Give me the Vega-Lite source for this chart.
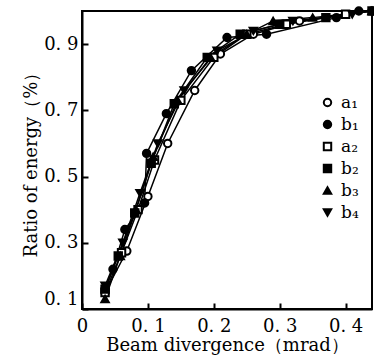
{
  "$schema": "https://vega.github.io/schema/vega-lite/v6.json",
  "width": 290,
  "height": 298,
  "autosize": "none",
  "padding": {"left": 82, "top": 11, "right": 2, "bottom": 51},
  "background": "white",
  "config": {
    "view": {"stroke": "black", "strokeWidth": 2},
    "font": "DejaVu Serif",
    "axis": {
      "grid": false,
      "domainColor": "black",
      "domainWidth": 2,
      "tickColor": "black",
      "tickWidth": 2,
      "tickSize": -6,
      "labelColor": "black",
      "titleColor": "black",
      "labelFont": "DejaVu Serif",
      "titleFont": "DejaVu Serif",
      "labelFontSize": 18,
      "titleFontSize": 18,
      "titleFontWeight": "normal"
    }
  },
  "data": {
    "values": [
      {"s": "a₁", "x": 0.035, "y": 0.15}, {"s": "a₁", "x": 0.068, "y": 0.275}, {"s": "a₁", "x": 0.1, "y": 0.44}, {"s": "a₁", "x": 0.13, "y": 0.6}, {"s": "a₁", "x": 0.171, "y": 0.76}, {"s": "a₁", "x": 0.21, "y": 0.87}, {"s": "a₁", "x": 0.26, "y": 0.93}, {"s": "a₁", "x": 0.33, "y": 0.97}, {"s": "a₁", "x": 0.44, "y": 1.0},
      {"s": "b₁", "x": 0.035, "y": 0.16}, {"s": "b₁", "x": 0.047, "y": 0.22}, {"s": "b₁", "x": 0.065, "y": 0.34}, {"s": "b₁", "x": 0.095, "y": 0.42}, {"s": "b₁", "x": 0.098, "y": 0.57}, {"s": "b₁", "x": 0.128, "y": 0.69}, {"s": "b₁", "x": 0.166, "y": 0.82}, {"s": "b₁", "x": 0.22, "y": 0.92}, {"s": "b₁", "x": 0.28, "y": 0.93}, {"s": "b₁", "x": 0.386, "y": 0.98}, {"s": "b₁", "x": 0.42, "y": 1.0},
      {"s": "a₂", "x": 0.035, "y": 0.15}, {"s": "a₂", "x": 0.06, "y": 0.27}, {"s": "a₂", "x": 0.085, "y": 0.4}, {"s": "a₂", "x": 0.11, "y": 0.55}, {"s": "a₂", "x": 0.15, "y": 0.73}, {"s": "a₂", "x": 0.2, "y": 0.86}, {"s": "a₂", "x": 0.25, "y": 0.93}, {"s": "a₂", "x": 0.31, "y": 0.96}, {"s": "a₂", "x": 0.4, "y": 0.99},
      {"s": "b₂", "x": 0.035, "y": 0.16}, {"s": "b₂", "x": 0.055, "y": 0.26}, {"s": "b₂", "x": 0.08, "y": 0.39}, {"s": "b₂", "x": 0.105, "y": 0.54}, {"s": "b₂", "x": 0.14, "y": 0.72}, {"s": "b₂", "x": 0.19, "y": 0.86}, {"s": "b₂", "x": 0.24, "y": 0.93}, {"s": "b₂", "x": 0.3, "y": 0.96}, {"s": "b₂", "x": 0.37, "y": 0.98}, {"s": "b₂", "x": 0.44, "y": 1.0},
      {"s": "b₃", "x": 0.035, "y": 0.13}, {"s": "b₃", "x": 0.058, "y": 0.26}, {"s": "b₃", "x": 0.082, "y": 0.4}, {"s": "b₃", "x": 0.108, "y": 0.56}, {"s": "b₃", "x": 0.145, "y": 0.73}, {"s": "b₃", "x": 0.195, "y": 0.86}, {"s": "b₃", "x": 0.25, "y": 0.93}, {"s": "b₃", "x": 0.29, "y": 0.97}, {"s": "b₃", "x": 0.35, "y": 0.98}, {"s": "b₃", "x": 0.44, "y": 1.0},
      {"s": "b₄", "x": 0.035, "y": 0.17}, {"s": "b₄", "x": 0.062, "y": 0.3}, {"s": "b₄", "x": 0.088, "y": 0.45}, {"s": "b₄", "x": 0.115, "y": 0.6}, {"s": "b₄", "x": 0.155, "y": 0.76}, {"s": "b₄", "x": 0.205, "y": 0.88}, {"s": "b₄", "x": 0.26, "y": 0.94}, {"s": "b₄", "x": 0.32, "y": 0.97}, {"s": "b₄", "x": 0.41, "y": 0.99}
    ]
  },
  "encoding": {
    "x": {
      "field": "x", "type": "quantitative",
      "scale": {"domain": [0, 0.44], "nice": false, "zero": false},
      "axis": {"values": [0, 0.1, 0.2, 0.3, 0.4], "labelExpr": "datum.value == 0 ? '0' : replace(format(datum.value, '.1f'), '.', '. ')", "labelPadding": 14, "title": "Beam divergence（mrad）", "titlePadding": 1, "labelFlush": false}
    },
    "y": {
      "field": "y", "type": "quantitative",
      "scale": {"domain": [0.1, 1.0], "nice": false, "zero": false},
      "axis": {"values": [0.1, 0.3, 0.5, 0.7, 0.9], "labelExpr": "replace(format(datum.value, '.1f'), '.', '. ')", "labelPadding": 10, "labelOffset": {"condition": {"test": "datum.value < 0.15", "value": -10}, "value": 0}, "title": "Ratio of energy（%）", "titlePadding": 3, "labelFlush": false}
    }
  },
  "layer": [
    {
      "mark": {"type": "line", "color": "black", "strokeWidth": 1.5},
      "encoding": {"detail": {"field": "s"}}
    },
    {
      "mark": {"type": "point", "stroke": "black", "strokeWidth": 2, "opacity": 1, "size": 55},
      "encoding": {
        "shape": {
          "field": "s", "type": "nominal",
          "scale": {"domain": ["a₁", "b₁", "a₂", "b₂", "b₃", "b₄"], "range": ["circle", "circle", "square", "square", "triangle-up", "triangle-down"]},
          "legend": {"title": null, "orient": "none", "legendX": 237, "legendY": 83, "labelFontSize": 17, "labelFont": "DejaVu Serif", "labelColor": "black", "rowPadding": 4, "symbolSize": 55, "symbolStrokeWidth": 2, "labelOffset": 5}
        },
        "fill": {
          "field": "s", "type": "nominal",
          "scale": {"domain": ["a₁", "b₁", "a₂", "b₂", "b₃", "b₄"], "range": ["white", "black", "white", "black", "black", "black"]},
          "legend": {"title": null, "orient": "none", "legendX": 237, "legendY": 83, "labelFontSize": 17, "labelFont": "DejaVu Serif", "labelColor": "black", "rowPadding": 4, "symbolSize": 55, "symbolStrokeWidth": 2, "labelOffset": 5}
        }
      }
    }
  ]
}
